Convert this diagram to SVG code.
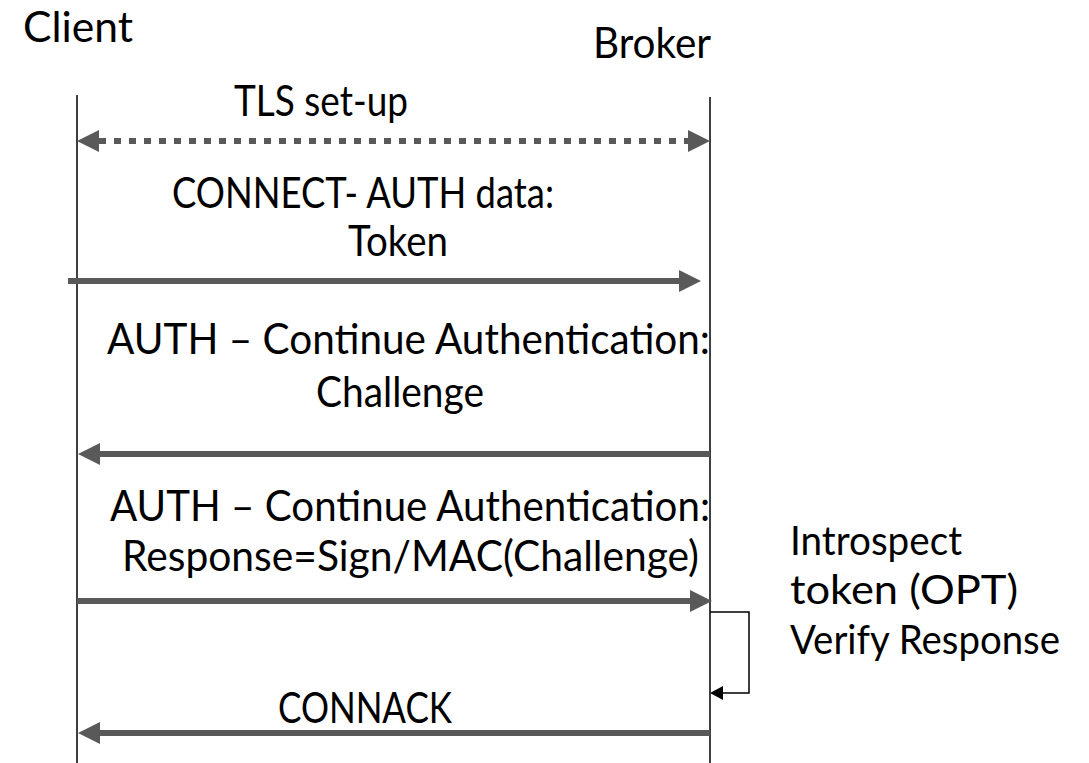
<svg xmlns="http://www.w3.org/2000/svg" width="1089" height="763" viewBox="0 0 1089 763">
  <defs>
    <style>
      .lbl { font-family: Lato, "Open Sans", "Liberation Sans", sans-serif; font-size: 43px; fill: #000; }
      .note { font-size: 41px; }
      .life { stroke: #000; stroke-width: 1.5; fill: none; }
      .msg { stroke: #595959; stroke-width: 6; fill: none; }
      .dot { stroke-dasharray: 7 8; }
      .head { fill: #595959; }
      .loop { stroke: #000; stroke-width: 1.5; fill: none; }
    </style>
  </defs>
  <rect width="1089" height="763" fill="#fff"/>

  <!-- participants -->
  <g id="client">
    <text class="lbl" x="23" y="42" textLength="110" lengthAdjust="spacingAndGlyphs">Client</text>
    <line class="life" x1="77" y1="95" x2="77" y2="763"/>
  </g>
  <g id="broker">
    <text class="lbl" x="593" y="58" textLength="118" lengthAdjust="spacingAndGlyphs">Broker</text>
    <line class="life" x1="710" y1="97" x2="710" y2="763"/>
  </g>

  <!-- message labels -->
  <g id="labels">
    <text class="lbl" x="234" y="116" textLength="174" lengthAdjust="spacingAndGlyphs">TLS set-up</text>
    <text class="lbl" x="172" y="208" textLength="382" lengthAdjust="spacingAndGlyphs">CONNECT- AUTH data:</text>
    <text class="lbl" x="348" y="256" textLength="100" lengthAdjust="spacingAndGlyphs">Token</text>
    <text class="lbl" x="107" y="354" textLength="603" lengthAdjust="spacingAndGlyphs">AUTH – Continue Authentication:</text>
    <text class="lbl" x="316" y="407" textLength="168" lengthAdjust="spacingAndGlyphs">Challenge</text>
    <text class="lbl" x="110" y="521" textLength="600" lengthAdjust="spacingAndGlyphs">AUTH – Continue Authentication:</text>
    <text class="lbl" x="122" y="571" textLength="577" lengthAdjust="spacingAndGlyphs">Response=Sign/MAC(Challenge)</text>
    <text class="lbl" x="278" y="723" textLength="174" lengthAdjust="spacingAndGlyphs">CONNACK</text>
  </g>

  <g id="note">
    <text class="lbl note" x="790" y="555" textLength="172" lengthAdjust="spacingAndGlyphs">Introspect</text>
    <text class="lbl note" x="790" y="604" textLength="228" lengthAdjust="spacingAndGlyphs">token (OPT)</text>
    <text class="lbl note" x="790" y="654" textLength="270" lengthAdjust="spacingAndGlyphs">Verify Response</text>
  </g>

  <!-- connectors -->
  <g id="connectors">
    <!-- TLS set-up, both directions -->
    <line class="msg dot" x1="99" y1="141" x2="688" y2="141"/>
    <polygon class="head" points="77,141 99,130 99,152"/>
    <polygon class="head" points="710,141 688,130 688,152"/>

    <!-- CONNECT -->
    <line class="msg" x1="68" y1="281" x2="681" y2="281"/>
    <polygon class="head" points="701,281 679,270 679,292"/>

    <!-- AUTH challenge -->
    <line class="msg" x1="710" y1="454" x2="98" y2="454"/>
    <polygon class="head" points="78,454 100,443 100,465"/>

    <!-- AUTH response -->
    <line class="msg" x1="77" y1="601" x2="692" y2="601"/>
    <polygon class="head" points="712,601 690,590 690,612"/>

    <!-- broker self-check -->
    <polyline class="loop" points="710,612 749,612 749,693 722,693"/>
    <polygon fill="#000" points="710,693 723,686 723,700"/>

    <!-- CONNACK -->
    <line class="msg" x1="710" y1="733" x2="98" y2="733"/>
    <polygon class="head" points="78,733 100,722 100,744"/>
  </g>
</svg>
